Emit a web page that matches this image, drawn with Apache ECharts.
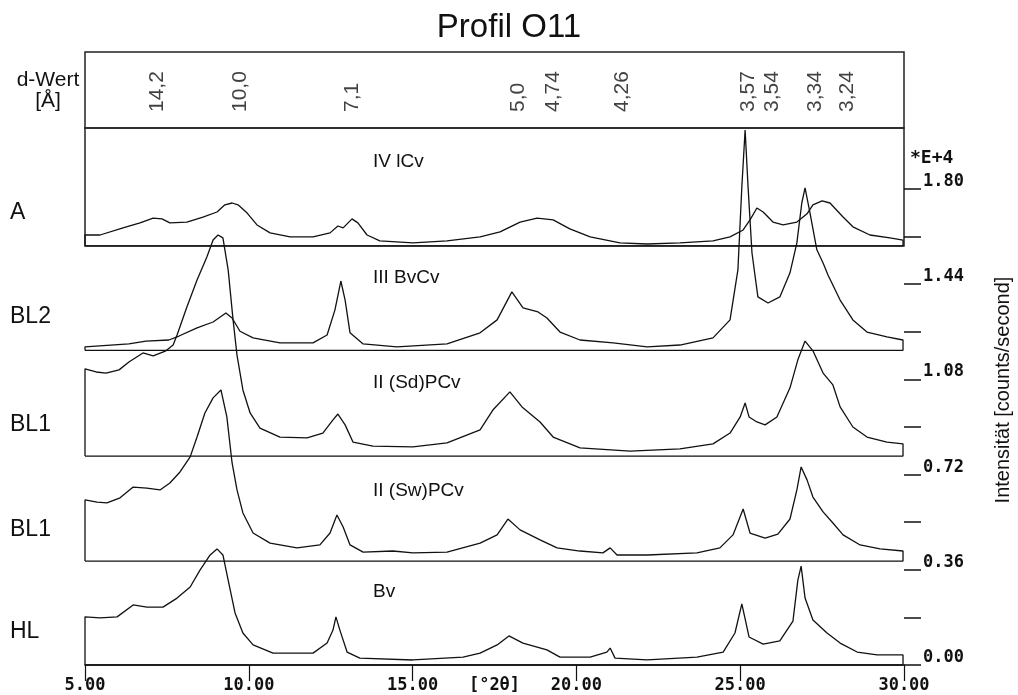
<!DOCTYPE html>
<html>
<head>
<meta charset="utf-8">
<title>Profil O11</title>
<script src="https://cdn.jsdelivr.net/npm/echarts@6/dist/echarts.min.js"></script>
<style>
  html, body { margin: 0; padding: 0; background: #fff; }
  #chart { width: 1018px; height: 695px; }
</style>
</head>
<body>
<div id="chart"></div>
<script>
// Achsen: [°2θ] unten, Intensität (*E+4 counts/second) rechts
const xTicks = [5, 10, 15, 20, 25, 30];
const yTickValues = [0, 0.18, 0.36, 0.54, 0.72, 0.9, 1.08, 1.26, 1.44, 1.62, 1.8];
const yLabelValues = [0, 0.36, 0.72, 1.08, 1.44, 1.8];

// d-Werte im Kopf (Lage der Beschriftung in °2θ)
const dLabels = ['14,2', '10,0', '7,1', '5,0', '4,74', '4,26', '3,57', '3,54', '3,34', '3,24'];
const dPos = [7.20, 9.73, 13.15, 18.22, 19.29, 21.39, 25.24, 25.97, 27.28, 28.26];

const panelNames = ['A', 'BL2', 'BL1', 'BL1', 'HL'];
const horizonNames = ['IV lCv', 'III BvCv', 'II (Sd)PCv', 'II (Sw)PCv', 'Bv'];
// Grundlinie jeder Kurve (versetzt gestapelt)
const baselines = [1.585, 1.19, 0.79, 0.393, 0];

// [°2θ, Intensität]
const curveA = [[5.00,1.626],[5.46,1.626],[6.16,1.653],[6.68,1.672],[7.08,1.690],[7.35,1.687],[7.59,1.672],[8.11,1.675],[8.60,1.694],[9.03,1.713],[9.27,1.740],[9.49,1.747],[9.67,1.740],[9.95,1.709],[10.25,1.664],[10.65,1.634],[11.26,1.619],[11.96,1.619],[12.48,1.634],[12.72,1.660],[12.88,1.653],[13.15,1.687],[13.33,1.672],[13.61,1.626],[14.00,1.604],[15.01,1.596],[16.05,1.604],[17.06,1.619],[17.67,1.638],[18.28,1.675],[18.80,1.690],[19.29,1.683],[19.80,1.649],[20.42,1.619],[21.33,1.596],[22.16,1.592],[23.16,1.596],[24.17,1.604],[24.69,1.619],[25.09,1.645],[25.30,1.683],[25.51,1.728],[25.70,1.713],[26.00,1.675],[26.31,1.664],[26.73,1.675],[27.04,1.706],[27.22,1.740],[27.50,1.755],[27.74,1.747],[28.14,1.694],[28.44,1.657],[28.96,1.626],[29.57,1.615],[29.97,1.607]];
const curveBL2 = [[5.00,1.203],[6.34,1.214],[6.86,1.225],[7.56,1.229],[7.87,1.244],[8.42,1.275],[8.91,1.297],[9.30,1.331],[9.49,1.312],[9.73,1.262],[10.13,1.237],[10.95,1.218],[11.96,1.218],[12.39,1.248],[12.63,1.343],[12.81,1.452],[12.94,1.380],[13.09,1.256],[13.49,1.214],[14.52,1.203],[16.05,1.214],[17.06,1.256],[17.58,1.305],[18.03,1.411],[18.37,1.350],[18.83,1.335],[19.10,1.312],[19.50,1.259],[20.11,1.229],[21.12,1.218],[22.16,1.203],[23.16,1.210],[24.17,1.237],[24.69,1.305],[24.93,1.494],[25.05,1.808],[25.15,2.023],[25.24,1.808],[25.36,1.558],[25.54,1.392],[25.85,1.369],[26.21,1.392],[26.52,1.483],[26.73,1.596],[26.88,1.747],[26.98,1.804],[27.13,1.710],[27.34,1.570],[27.53,1.520],[27.68,1.475],[28.05,1.380],[28.44,1.305],[28.87,1.259],[29.48,1.241],[29.97,1.229]];
const curveBL1Sd = [[5.00,1.120],[5.34,1.108],[5.64,1.104],[6.04,1.116],[6.34,1.146],[6.77,1.180],[7.08,1.169],[7.47,1.188],[7.69,1.210],[7.81,1.248],[8.11,1.354],[8.42,1.456],[8.72,1.543],[8.91,1.607],[9.06,1.626],[9.21,1.615],[9.37,1.494],[9.52,1.305],[9.64,1.172],[9.82,1.040],[10.04,0.953],[10.34,0.896],[10.95,0.862],[11.78,0.859],[12.26,0.877],[12.57,0.927],[12.72,0.949],[12.94,0.908],[13.18,0.843],[13.79,0.828],[15.01,0.825],[16.05,0.840],[17.06,0.889],[17.45,0.964],[17.97,1.033],[18.34,0.976],[18.89,0.919],[19.29,0.862],[20.11,0.821],[21.64,0.809],[23.16,0.817],[24.17,0.836],[24.69,0.877],[25.00,0.938],[25.15,0.991],[25.27,0.938],[25.51,0.919],[25.76,0.908],[26.12,0.938],[26.52,1.048],[26.76,1.154],[26.98,1.225],[27.22,1.188],[27.53,1.104],[27.83,1.059],[28.05,0.976],[28.44,0.900],[28.87,0.862],[29.48,0.843],[29.97,0.836]];
const curveBL1Sw = [[5.00,0.624],[5.37,0.616],[5.67,0.613],[6.07,0.632],[6.47,0.673],[6.89,0.669],[7.29,0.662],[7.59,0.688],[7.90,0.730],[8.21,0.787],[8.42,0.862],[8.66,0.953],[8.91,1.010],[9.15,1.040],[9.33,0.938],[9.49,0.764],[9.64,0.662],[9.82,0.575],[10.13,0.499],[10.65,0.461],[11.47,0.443],[12.17,0.454],[12.48,0.499],[12.69,0.567],[12.88,0.522],[13.09,0.454],[13.49,0.427],[14.40,0.431],[15.01,0.424],[16.05,0.427],[17.06,0.461],[17.58,0.492],[17.91,0.552],[18.28,0.511],[18.89,0.473],[19.41,0.443],[20.11,0.431],[20.81,0.424],[21.03,0.443],[21.24,0.416],[22.16,0.416],[23.68,0.424],[24.38,0.443],[24.78,0.492],[25.09,0.590],[25.30,0.499],[25.76,0.480],[26.15,0.495],[26.52,0.552],[26.73,0.662],[26.86,0.749],[27.04,0.700],[27.22,0.635],[27.53,0.579],[27.83,0.537],[28.14,0.492],[28.66,0.454],[29.27,0.439],[29.97,0.431]];
const curveHL = [[5.00,0.182],[5.46,0.178],[5.98,0.182],[6.47,0.227],[6.89,0.219],[7.38,0.219],[7.81,0.253],[8.21,0.295],[8.51,0.359],[8.82,0.416],[9.03,0.439],[9.21,0.416],[9.37,0.321],[9.58,0.197],[9.82,0.121],[10.13,0.076],[10.74,0.045],[11.96,0.045],[12.39,0.083],[12.57,0.132],[12.66,0.182],[12.78,0.132],[13.00,0.049],[13.39,0.026],[15.01,0.019],[16.54,0.030],[17.06,0.045],[17.58,0.076],[17.94,0.110],[18.37,0.083],[19.10,0.057],[19.50,0.030],[20.42,0.030],[20.93,0.049],[21.03,0.064],[21.18,0.026],[22.16,0.019],[23.68,0.030],[24.48,0.049],[24.84,0.121],[25.05,0.231],[25.27,0.106],[25.70,0.079],[26.21,0.091],[26.61,0.166],[26.76,0.321],[26.86,0.374],[26.98,0.253],[27.22,0.170],[27.65,0.121],[28.05,0.083],[28.57,0.049],[29.18,0.038],[29.97,0.038]];

const curves = [curveA, curveBL2, curveBL1Sd, curveBL1Sw, curveHL];

const sans = '"Liberation Sans", Arial, sans-serif';
const mono = '"DejaVu Sans Mono", monospace';
const ink = '#111';

// Kurve mit senkrechten Enden bis zur Grundlinie schliessen
function closeToBase(curve, base) {
    const first = curve[0][0];
    const last = curve[curve.length - 1][0];
    return [[first, base]].concat(curve, [[last, base], [first, base]]);
}

const chart = echarts.init(document.getElementById('chart'));

const curveSeries = curves.map((c, i) => ({
    type: 'line',
    name: horizonNames[i],
    xAxisIndex: 0,
    yAxisIndex: 0,
    data: closeToBase(c, baselines[i]),
    symbol: 'none',
    clip: false,
    lineStyle: { color: ink, width: 1.3 },
    z: 5
}));

const texts = [];
const panelY = [213, 317, 425, 530, 632];
const horizonY = [162, 278, 383, 491, 592];
panelNames.forEach((n, i) => {
    texts.push({
        type: 'text', x: 10, y: panelY[i],
        style: { text: n, fill: ink, font: '23px ' + sans, textAlign: 'left', textVerticalAlign: 'middle', align: 'left', verticalAlign: 'middle' }
    });
});
horizonNames.forEach((n, i) => {
    texts.push({
        type: 'text', x: 373, y: horizonY[i],
        style: { text: n, fill: ink, font: '19px ' + sans, textAlign: 'left', textVerticalAlign: 'middle', align: 'left', verticalAlign: 'middle' }
    });
});
texts.push({
    type: 'text', x: 48, y: 91,
    style: { text: 'd-Wert\n[Å]', fill: ink, font: '21px ' + sans, lineHeight: 21, textAlign: 'center', textVerticalAlign: 'middle', align: 'center', verticalAlign: 'middle' }
});
texts.push({
    type: 'text', x: 910, y: 158,
    style: { text: '*E+4', fill: ink, font: 'bold 18px ' + mono, textAlign: 'left', textVerticalAlign: 'middle', align: 'left', verticalAlign: 'middle' }
});
texts.push({
    type: 'text', x: 1003, y: 390, rotation: Math.PI / 2,
    style: { text: 'Intensität [counts/second]', fill: ink, font: '20px ' + sans, textAlign: 'center', textVerticalAlign: 'middle', align: 'center', verticalAlign: 'middle' }
});

const frame = { show: true, borderColor: '#222', borderWidth: 1.5, backgroundColor: 'transparent', outerBoundsMode: 'none', containLabel: false };

const option = {
    backgroundColor: '#fff',
    animation: false,
    title: {
        text: 'Profil O11',
        left: 'center',
        top: 6,
        textStyle: { fontSize: 33, fontWeight: 'normal', fontFamily: sans, color: ink }
    },
    grid: [
        // Hauptdiagramm
        { left: 85, right: 114, top: 52, bottom: 30, outerBoundsMode: 'none', containLabel: false },
        // Kopf mit d-Werten
        Object.assign({ left: 85, right: 114, top: 52, bottom: 567 }, frame),
        // Rahmen um Probe A
        Object.assign({ left: 85, right: 114, top: 128, bottom: 449 }, frame)
    ],
    xAxis: [
        {
            gridIndex: 0, type: 'value', min: 5, max: 30, interval: 5,
            name: '[°2θ]', nameLocation: 'middle', nameGap: 12, nameMoveOverlap: false,
            nameTextStyle: { fontFamily: mono, fontWeight: 'bold', fontSize: 17, color: ink, verticalAlign: 'top' },
            axisLine: { show: true, lineStyle: { color: ink, width: 1.5 } },
            axisTick: { show: true, length: 16, lineStyle: { color: ink, width: 1.2 } },
            axisLabel: { margin: 12, fontFamily: mono, fontWeight: 'bold', fontSize: 17, color: ink, formatter: v => v.toFixed(2) },
            splitLine: { show: false }
        },
        { gridIndex: 1, type: 'value', min: 5, max: 30, show: false },
        { gridIndex: 2, type: 'value', min: 5, max: 30, show: false }
    ],
    yAxis: [
        {
            gridIndex: 0, type: 'value', position: 'right', min: 0, max: 2.318,
            axisLine: { show: false },
            axisTick: { show: true, length: 17, customValues: yTickValues, lineStyle: { color: ink, width: 1.5 } },
            axisLabel: {
                customValues: yLabelValues, margin: 19, align: 'left', verticalAlign: 'bottom', lineHeight: 15,
                fontFamily: mono, fontWeight: 'bold', fontSize: 17, color: ink,
                formatter: v => v.toFixed(2)
            },
            splitLine: { show: false }
        },
        { gridIndex: 1, type: 'value', min: 0, max: 1, show: false },
        { gridIndex: 2, type: 'value', min: 0, max: 1, show: false }
    ],
    graphic: { elements: texts },
    series: curveSeries.concat([{
        type: 'scatter',
        xAxisIndex: 1,
        yAxisIndex: 1,
        symbol: 'circle',
        symbolSize: 1,
        itemStyle: { color: 'transparent' },
        data: dPos.map((p, i) => ({ value: [p, 0.21], name: dLabels[i] })),
        label: {
            show: true, position: 'inside', formatter: '{b}', rotate: 90,
            align: 'left', verticalAlign: 'middle',
            fontFamily: sans, fontSize: 21, color: ink
        }
    }])
};

chart.setOption(option);
</script>
</body>
</html>
